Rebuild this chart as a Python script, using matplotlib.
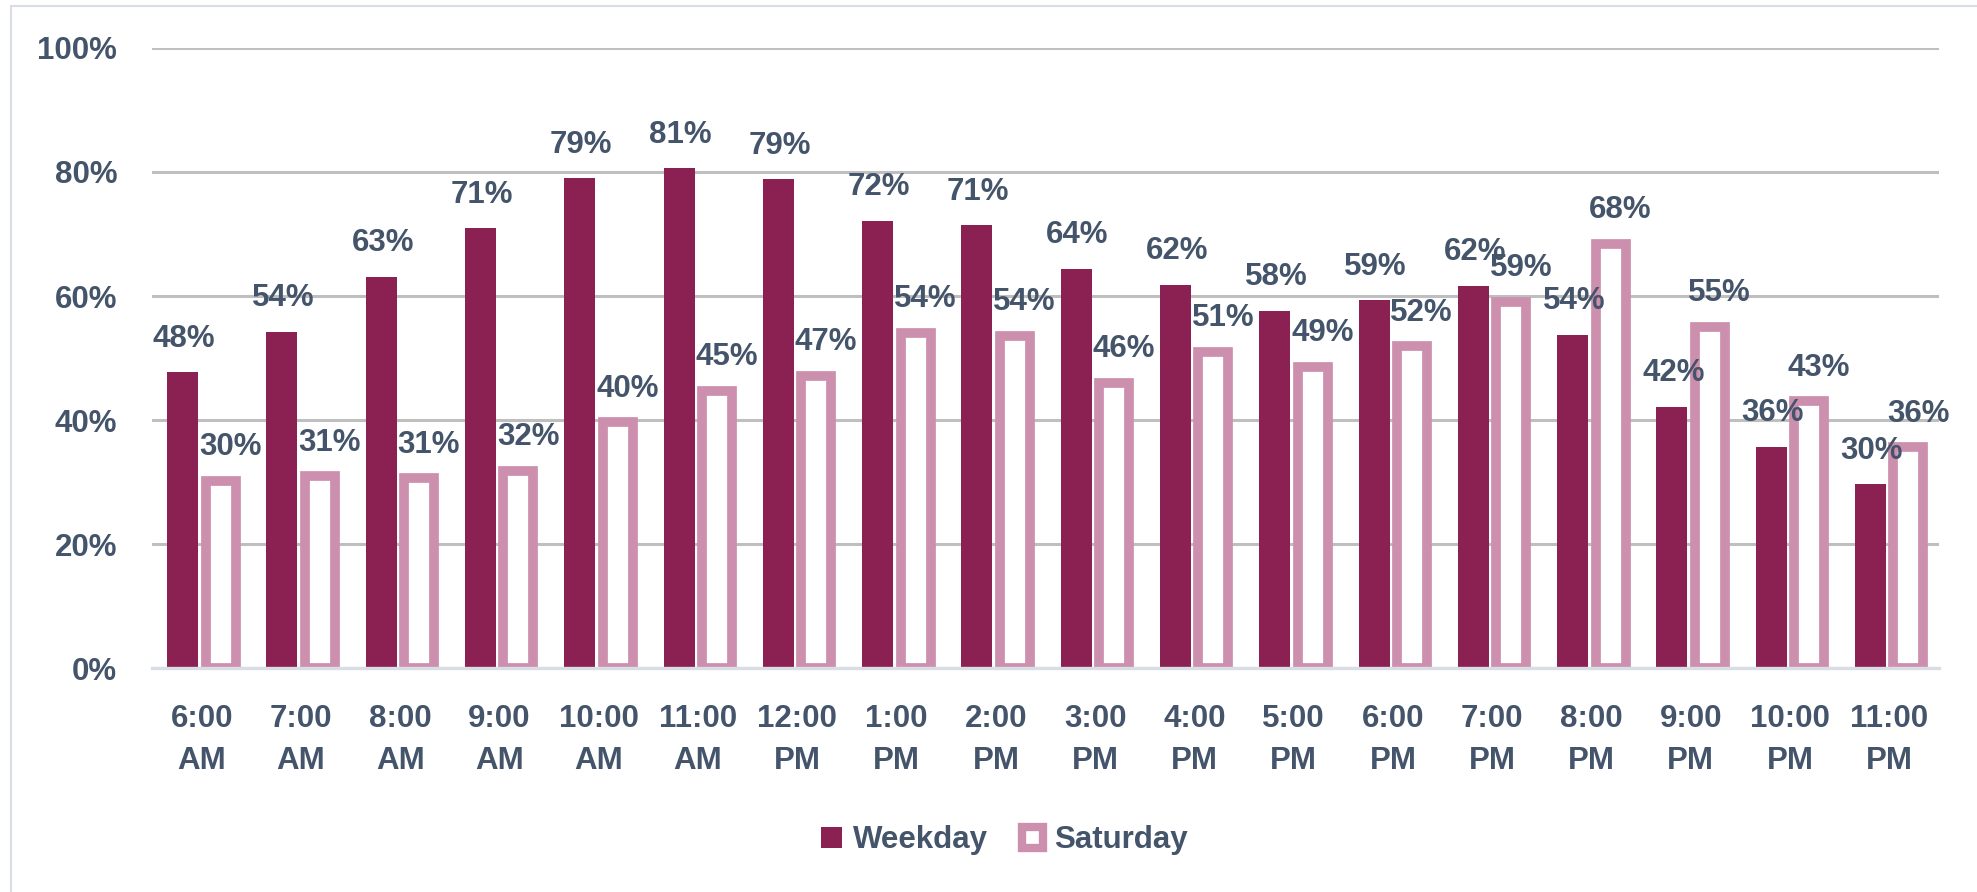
import matplotlib
matplotlib.use("Agg")
import matplotlib.pyplot as plt
from matplotlib import font_manager
import numpy as np
from matplotlib.patches import Rectangle, Patch

categories = ["6:00\nAM", "7:00\nAM", "8:00\nAM", "9:00\nAM", "10:00\nAM", "11:00\nAM",
              "12:00\nPM", "1:00\nPM", "2:00\nPM", "3:00\nPM", "4:00\nPM", "5:00\nPM",
              "6:00\nPM", "7:00\nPM", "8:00\nPM", "9:00\nPM", "10:00\nPM", "11:00\nPM"]
weekday = [47.7, 54.2, 63.1, 70.9, 79.0, 80.6, 78.8, 72.1, 71.4, 64.4, 61.8, 57.6,
           59.3, 61.6, 53.7, 42.1, 35.7, 29.6]
saturday = [30.2, 30.9, 30.6, 31.8, 39.6, 44.7, 47.1, 54.1, 53.6, 46.0, 51.0, 48.6,
            51.9, 59.1, 68.4, 55.0, 43.0, 35.6]
yticks = [0, 20, 40, 60, 80, 100]

TXT = "#44546A"
WD = "#8B2052"
SA = "#CC8FAD"

names = {f.name for f in font_manager.fontManager.ttflist}
if "Liberation Sans Narrow" in names:
    plt.rcParams['font.family'] = ['Liberation Sans Narrow', 'DejaVu Sans']
    FS = 26
else:
    plt.rcParams['font.family'] = ['Liberation Sans', 'DejaVu Sans']
    FS = 22.5
plt.rcParams['font.weight'] = 'bold'

fig = plt.figure(figsize=(19.77, 8.92), dpi=100)
ax = fig.add_axes([0.0769, 0.2511, 0.9039, 0.6951])
x = np.arange(len(categories))
off = 0.191
b1 = ax.bar(x - off, weekday, width=0.312, color=WD, label="Weekday", zorder=3)
b2 = ax.bar(x + off, saturday, width=0.302, facecolor="white", edgecolor=SA,
            linewidth=7.0, label="Saturday", zorder=3)

for xi, v in zip(x, weekday):
    ax.annotate(f"{round(v)}%", (xi - off, v), xytext=(1, 18.5), textcoords="offset points",
                ha="center", va="baseline", fontsize=FS, color=TXT, fontweight="bold",
                clip_on=False, zorder=5)
for xi, v in zip(x, saturday):
    ax.annotate(f"{round(v)}%", (xi + off, v), xytext=(7, 18.5), textcoords="offset points",
                ha="center", va="baseline", fontsize=FS, color=TXT, fontweight="bold",
                clip_on=False, zorder=5)

ax.set_xlim(-0.5, len(categories) - 0.5)
ax.set_ylim(0, 100)
ax.set_yticks(yticks)
ax.set_yticklabels([f"{t}%" for t in yticks])
ax.set_xticks(x)
ax.set_xticklabels(categories, linespacing=1.5)
ax.tick_params(axis="both", length=0, labelsize=FS, colors=TXT)
ax.tick_params(axis="y", pad=25)
ax.tick_params(axis="x", pad=26)
for lab in ax.get_xticklabels() + ax.get_yticklabels():
    lab.set_fontweight("bold")
ax.grid(axis="y", color="#BFBFBF", linewidth=2.2, zorder=0)
ax.set_axisbelow(True)
for s in ["top", "right", "left"]:
    ax.spines[s].set_visible(False)
ax.spines["bottom"].set_color("#D9DEE6")
ax.spines["bottom"].set_linewidth(2.4)
ax.spines["bottom"].set_zorder(4)

h1 = Patch(facecolor=WD, edgecolor="none", label="Weekday")
h2 = Patch(facecolor="white", edgecolor=SA, linewidth=6.0, label="Saturday")
leg = fig.legend(handles=[h1, h2], loc="center", bbox_to_anchor=(0.508, 0.058), ncol=2,
                 frameon=False, handlelength=0.66, handleheight=0.66,
                 handletextpad=0.35, columnspacing=1.1, prop={'weight': 'bold', 'size': FS})
for t in leg.get_texts():
    t.set_color(TXT)

fig.patches.append(Rectangle((11 / 1977, -0.05), 1.2, 0.05 + 1 - 6 / 892,
                             transform=fig.transFigure, fill=False,
                             edgecolor="#D9DEE6", linewidth=1.5))

fig.savefig("out.png", dpi=100)
